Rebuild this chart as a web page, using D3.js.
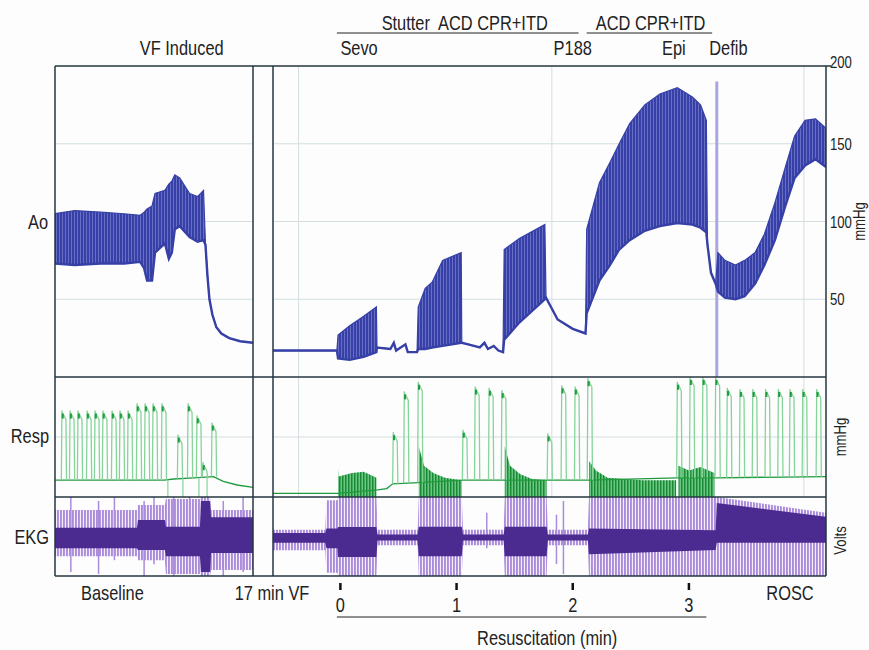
<!DOCTYPE html>
<html>
<head>
<meta charset="utf-8">
<script src="https://cdn.jsdelivr.net/npm/d3@7"></script>
<style>
  body { margin: 0; background: #fdfdfe; }
  text { font-family: "Liberation Sans", Arial, sans-serif; fill: #222; }
</style>
</head>
<body>
<svg id="chart" width="869" height="650"></svg>
<script>
// ---- data (left panel: baseline time 0-100, right panel: minutes of resuscitation) ----

// aortic pressure envelope [t, low, high] in mmHg
const aoBaseline = [
  [0, 73, 105], [10, 72, 107], [23, 73, 106], [35, 73, 105], [43, 74, 104], [45, 70, 106],
  [46.5, 62, 108], [49, 62, 110], [50.5, 80, 118], [55.5, 86, 120], [57.5, 76, 124], [59, 80, 126],
  [60.5, 95, 130], [63, 97, 128], [68, 90, 118], [72, 87, 116], [75, 88, 120], [76, 85, 85],
  [77, 65, 65], [78, 50, 50], [79.5, 40, 40], [81.5, 32, 32], [84, 28, 28], [88, 25, 25],
  [93.5, 23, 23], [100, 22, 22]
];
const aoResus = [
  [-0.58, 17, 17], [-0.03, 17, 17], [-0.02, 12, 27], [0.08, 11, 33], [0.2, 13, 39], [0.31, 16, 45],
  [0.315, 19, 19], [0.43, 18, 18], [0.46, 22, 22], [0.48, 17, 17], [0.56, 21, 21], [0.58, 16, 16],
  [0.66, 16, 16], [0.67, 18, 45], [0.73, 18, 57], [0.79, 19, 61], [0.88, 20, 75], [1.04, 22, 80],
  [1.045, 22, 22], [1.1, 21, 21], [1.2, 19, 19], [1.24, 22, 22], [1.27, 18, 18], [1.32, 20, 20],
  [1.36, 17, 17], [1.4, 16, 16], [1.41, 24, 82], [1.54, 35, 89], [1.76, 50, 98], [1.77, 51, 51],
  [1.87, 37, 37], [2.0, 31, 31], [2.11, 28, 28], [2.12, 41, 95], [2.23, 62, 125], [2.32, 72, 138],
  [2.4, 82, 150], [2.49, 88, 163], [2.62, 94, 175], [2.75, 97, 182], [2.9, 99, 186], [3.03, 98, 180],
  [3.1, 96, 175], [3.15, 93, 165], [3.16, 85, 85], [3.19, 67, 67], [3.23, 60, 60], [3.25, 55, 80],
  [3.31, 51, 75], [3.4, 50, 72], [3.48, 52, 75], [3.57, 60, 80], [3.65, 72, 92], [3.74, 88, 112],
  [3.83, 110, 135], [3.91, 128, 155], [4.0, 136, 165], [4.09, 140, 166], [4.18, 135, 160]
];
const defibMark = [3.24, 190];

// respiratory pressure (relative, 0-100)
const respBaseLine = [[0, 14], [55, 14], [60, 15], [70, 16], [80, 17], [85, 13], [92, 10], [100, 8]];
const respBasePeaks = [
  [3.5, 72], [7.6, 72], [11.6, 72], [16.2, 72], [20.2, 72], [24.2, 72], [28.8, 72], [32.8, 72],
  [36.9, 72], [41.4, 78], [45.5, 78], [49.5, 78], [54, 78], [62.1, 52], [67.2, 78], [71.7, 68],
  [74.7, 29], [79.3, 62]
];
const respBaseDips = [57, 64.6, 72.7, 76.8];
const respResusLine = [
  [-0.58, 3], [-0.02, 3], [0.32, 6], [0.4, 7], [0.45, 11], [0.67, 12], [1.05, 14], [1.41, 14],
  [1.78, 14], [2.14, 14], [2.9, 16], [3.23, 16], [4.18, 17]
];
const respResusPeaks = [
  [0.455, 54], [0.55, 88], [0.67, 96], [1.055, 56], [1.16, 92], [1.28, 91], [1.39, 89],
  [1.785, 53], [1.905, 93], [2.02, 92], [2.13, 99], [2.9, 96], [3.01, 100], [3.12, 100],
  [3.23, 100], [3.33, 91], [3.44, 90], [3.55, 90], [3.66, 90], [3.77, 90], [3.87, 90],
  [3.98, 90], [4.1, 90]
];
const respBlocks = [
  [[-0.02, 24], [-0.015, 17], [0.1, 20], [0.2, 21], [0.31, 16]],
  [[0.675, 42], [0.72, 26], [0.8, 20], [0.9, 16], [1.045, 14]],
  [[1.415, 42], [1.46, 26], [1.55, 19], [1.65, 15], [1.775, 14]],
  [[2.14, 30], [2.2, 22], [2.3, 16], [2.6, 14], [2.89, 14]],
  [[2.91, 26], [3.0, 22], [3.1, 25], [3.22, 20]]
];

// EKG envelope [t, spikeLow, spikeHigh, coreLow, coreHigh] in volts (scaled -1..1)
const ekgBaseline = [
  [0, -0.5, 0.67, -0.3, 0.22], [41.4, -0.5, 0.67, -0.3, 0.22], [41.9, -0.6, 0.8, -0.34, 0.42],
  [55.5, -0.6, 0.8, -0.34, 0.42], [56, -0.95, 0.95, -0.5, 0.25], [73.2, -0.95, 0.95, -0.5, 0.25],
  [73.7, -1, 1, -0.9, 0.9], [78.3, -1, 1, -0.9, 0.9], [78.8, -0.85, 0.67, -0.42, 0.49],
  [100, -0.85, 0.67, -0.42, 0.49]
];
const ekgBaselineSpikes = [[8, -0.9, 1], [22, -0.95, 0.9], [30, -0.6, 1], [45, -1, 0.9], [50, -0.7, 1], [60, -1, 1], [68, -0.9, 1], [85, -1, 0.9], [95, -0.9, 1]];
const ekgResus = [
  [-0.58, -0.35, 0.17, -0.16, 0.09], [-0.13, -0.35, 0.17, -0.16, 0.09], [-0.12, -0.92, 0.92, -0.3, 0.2],
  [-0.025, -0.92, 0.92, -0.3, 0.2], [-0.02, -1, 1, -0.52, 0.24], [0.31, -1, 1, -0.52, 0.24],
  [0.32, -0.22, 0.17, -0.1, 0.05], [0.665, -0.22, 0.17, -0.1, 0.05], [0.675, -1, 1, -0.5, 0.25],
  [1.045, -1, 1, -0.5, 0.25], [1.055, -0.22, 0.17, -0.1, 0.05], [1.405, -0.22, 0.17, -0.1, 0.05],
  [1.415, -1, 1, -0.5, 0.25], [1.775, -1, 1, -0.5, 0.25], [1.785, -0.22, 0.17, -0.1, 0.05],
  [2.13, -0.22, 0.17, -0.1, 0.05], [2.14, -1, 1, -0.45, 0.2], [3.23, -1, 1, -0.34, 0.16],
  [3.24, -1, 1, -0.16, 0.85], [4.18, -1, 0.6, -0.16, 0.5]
];
const ekgResusSpikes = [[1.26, -0.3, 0.6], [1.86, -0.7, 0.55], [1.92, -0.95, 0.9]];

// axis / annotation values
const aoTicks = [200, 150, 100, 50];
const aoGrid = [50, 100, 150];
const respGrid = [50];
const minuteGrid = [-0.36, 1.82, 3.99];
const minuteTicks = [0, 1, 2, 3];
const topEvents = [["Sevo", 0, "start"], ["P188", 2, "middle"], ["Epi", 2.87, "middle"], ["Defib", 3.34, "middle"]];
const brackets = [["Stutter  ACD CPR+ITD", -0.03, 2.05, 1.07], ["ACD CPR+ITD", 2.12, 3.2, 2.67]];

// ---- layout ----
const W = 869, H = 650;
const yTop = 66, aoBottom = 377, respBottom = 497, yBottom = 576;
const xL = d3.scaleLinear().domain([0, 100]).range([55, 253]);
const xR = d3.scaleLinear().domain([-0.58, 4.18]).range([273, 826]);
const yAo = d3.scaleLinear().domain([0, 200]).range([aoBottom, yTop]);
const yResp = d3.scaleLinear().domain([0, 100]).range([respBottom, aoBottom]);
const yEkg = d3.scaleLinear().domain([-1, 1]).range([yBottom, respBottom]);

const aoDark = "#3640a6", aoLight = "#686ec3";
const respDark = "#1f9a3d", respLight = "#86d49a";
const ekgDark = "#4b2b8f", ekgLight = "#ab8cdb";
const frame = "#24363f", grid = "#d3dfdf";
const narrow = 0.82;

const svg = d3.select("#chart");
svg.append("rect").attr("width", W).attr("height", H).attr("fill", "#fdfdfe");
const defs = svg.append("defs");

function hatch(id, bg, fg, w, lw) {
  const p = defs.append("pattern").attr("id", id).attr("patternUnits", "userSpaceOnUse")
    .attr("width", w).attr("height", 10);
  p.append("rect").attr("width", w).attr("height", 10).attr("fill", bg);
  p.append("rect").attr("width", lw).attr("height", 10).attr("fill", fg);
}
hatch("aoHatch", aoLight, aoDark, 3, 2);
hatch("respHatch", "#6cc684", "#178a33", 3, 1.5);
hatch("ekgHatch", "#f4effb", ekgLight, 3, 1.9);

function clip(id, x, y0, y1) {
  defs.append("clipPath").attr("id", id).append("rect")
    .attr("x", x.range()[0]).attr("y", y0)
    .attr("width", x.range()[1] - x.range()[0]).attr("height", y1 - y0);
  return svg.append("g").attr("clip-path", `url(#${id})`);
}

// condensed text, like the original figure's narrow face
function label(g, text, x, y, anchor, size, rot) {
  return g.append("text")
    .attr("transform", `translate(${x},${y})${rot ? " rotate(" + rot + ")" : ""} scale(${narrow},1)`)
    .attr("text-anchor", anchor).attr("font-size", size)
    .style("white-space", "pre").text(text);
}

// ---- grid ----
const gGrid = svg.append("g").attr("stroke", grid).attr("stroke-width", 1);
[xL, xR].forEach(x => {
  aoGrid.forEach(v => gGrid.append("line").attr("x1", x.range()[0]).attr("x2", x.range()[1])
    .attr("y1", yAo(v)).attr("y2", yAo(v)));
  respGrid.forEach(v => gGrid.append("line").attr("x1", x.range()[0]).attr("x2", x.range()[1])
    .attr("y1", yResp(v)).attr("y2", yResp(v)));
});
minuteGrid.forEach(t => gGrid.append("line").attr("x1", xR(t)).attr("x2", xR(t))
  .attr("y1", yTop).attr("y2", respBottom));

// ---- Ao ----
function drawAo(g, x, data) {
  g.append("path").datum(data)
    .attr("d", d3.area().x(d => x(d[0])).y0(d => yAo(d[1])).y1(d => yAo(d[2])))
    .attr("fill", "url(#aoHatch)");
  g.append("path").datum(data)
    .attr("d", d3.line().x(d => x(d[0])).y(d => yAo(d[2])))
    .attr("fill", "none").attr("stroke", aoDark).attr("stroke-width", 1.2);
  g.append("path").datum(data)
    .attr("d", d3.line().x(d => x(d[0])).y(d => yAo(d[1])))
    .attr("fill", "none").attr("stroke", aoDark).attr("stroke-width", 2.4);
}
drawAo(clip("cAoL", xL, yTop, aoBottom), xL, aoBaseline);
const gAoR = clip("cAoR", xR, yTop, aoBottom);
gAoR.append("line").attr("x1", xR(defibMark[0])).attr("x2", xR(defibMark[0]))
  .attr("y1", yAo(defibMark[1])).attr("y2", yAo(0))
  .attr("stroke", "#a9a6e2").attr("stroke-width", 3);
drawAo(gAoR, xR, aoResus);

// ---- Resp ----
function drawResp(g, x, base, peaks, blocks, dips) {
  const level = d3.scaleLinear().domain(base.map(d => d[0])).range(base.map(d => d[1]));
  blocks.forEach(b => g.append("path").datum(b)
    .attr("d", d3.area().x(d => x(d[0])).y0(yResp(0)).y1(d => yResp(d[1])))
    .attr("fill", "url(#respHatch)"));
  g.append("path").datum(base)
    .attr("d", d3.line().x(d => x(d[0])).y(d => yResp(d[1])))
    .attr("fill", "none").attr("stroke", respDark).attr("stroke-width", 1.3);
  dips.forEach(t => g.append("line").attr("x1", x(t)).attr("x2", x(t))
    .attr("y1", yResp(level(t))).attr("y2", yResp(0))
    .attr("stroke", respLight).attr("stroke-width", 1.2));
  peaks.forEach(([t, v]) => {
    const px = x(t), yb = yResp(level(t)), yp = yResp(v);
    g.append("path")
      .attr("d", `M${px - 0.6},${yb}L${px},${yp}L${px + 1},${yp + 6}L${px + 1.6},${yp + 4}L${px + 4},${yp + 9}L${px + 4.6},${yb}`)
      .attr("fill", "none").attr("stroke", respLight).attr("stroke-width", 1.3);
    g.append("rect").attr("x", px - 0.2).attr("y", yp + 3).attr("width", 2).attr("height", 5)
      .attr("fill", respDark);
  });
}
drawResp(clip("cRespL", xL, aoBottom, respBottom), xL, respBaseLine, respBasePeaks, [], respBaseDips);
drawResp(clip("cRespR", xR, aoBottom, respBottom), xR, respResusLine, respResusPeaks, respBlocks, []);

// ---- EKG ----
function drawEkg(g, x, data, spikes) {
  g.append("path").datum(data)
    .attr("d", d3.area().x(d => x(d[0])).y0(d => yEkg(d[1])).y1(d => yEkg(d[2])))
    .attr("fill", "url(#ekgHatch)");
  spikes.forEach(([t, lo, hi]) => g.append("line").attr("x1", x(t)).attr("x2", x(t))
    .attr("y1", yEkg(lo)).attr("y2", yEkg(hi)).attr("stroke", ekgLight).attr("stroke-width", 1.5));
  g.append("path").datum(data)
    .attr("d", d3.area().x(d => x(d[0])).y0(d => yEkg(d[3])).y1(d => yEkg(d[4])))
    .attr("fill", ekgDark);
}
drawEkg(clip("cEkgL", xL, respBottom, yBottom), xL, ekgBaseline, ekgBaselineSpikes);
drawEkg(clip("cEkgR", xR, respBottom, yBottom), xR, ekgResus, ekgResusSpikes);

// ---- frame ----
const gF = svg.append("g").attr("stroke", frame).attr("stroke-width", 1.5);
[yTop, aoBottom, respBottom, yBottom].forEach(y =>
  gF.append("line").attr("x1", xL.range()[0]).attr("x2", xR.range()[1]).attr("y1", y).attr("y2", y));
[xL.range()[0], xL.range()[1], xR.range()[0], xR.range()[1]].forEach(x =>
  gF.append("line").attr("x1", x).attr("x2", x).attr("y1", yTop).attr("y2", yBottom));
gF.append("line").attr("x1", xR.range()[1]).attr("x2", xR.range()[1] + 5).attr("y1", yTop).attr("y2", yTop);

// ---- right axis ----
const gAx = svg.append("g");
aoTicks.forEach(v => label(gAx, String(v), 830, yAo(v) + (v === 200 ? 2 : 6), "start", 16));
label(gAx, "mmHg", 865, yAo(100), "middle", 16, -90);
label(gAx, "mmHg", 846, yResp(50), "middle", 16, -90);
label(gAx, "Volts", 846, yEkg(-0.1), "middle", 16, -90);

// ---- left labels ----
const gLab = svg.append("g");
label(gLab, "Ao", 48, yAo(95), "end", 20);
label(gLab, "Resp", 49, yResp(45), "end", 20);
label(gLab, "EKG", 49, yEkg(-0.2), "end", 20);

// ---- top annotations ----
const gTop = svg.append("g");
label(gTop, "VF Induced", xL(64), 55, "middle", 20);
topEvents.forEach(([text, t, anchor]) => label(gTop, text, xR(t), 55, anchor, 20));
brackets.forEach(([text, t0, t1, tc]) => {
  gTop.append("line").attr("x1", xR(t0)).attr("x2", xR(t1)).attr("y1", 33).attr("y2", 33)
    .attr("stroke", "#222").attr("stroke-width", 1.2);
  label(gTop, text, xR(tc), 30, "middle", 20);
});

// ---- bottom annotations ----
const gBot = svg.append("g");
label(gBot, "Baseline", xL(29), 600, "middle", 20);
label(gBot, "17 min VF", xR.range()[0] - 1, 600, "middle", 20);
label(gBot, "ROSC", xR(3.87), 600, "middle", 20);
minuteTicks.forEach(m => {
  gBot.append("line").attr("x1", xR(m)).attr("x2", xR(m)).attr("y1", 583).attr("y2", 590)
    .attr("stroke", "#111").attr("stroke-width", 2.5);
  label(gBot, String(m), xR(m), 612, "middle", 20);
});
gBot.append("line").attr("x1", xR(-0.03)).attr("x2", xR(3.15)).attr("y1", 617).attr("y2", 617)
  .attr("stroke", "#222").attr("stroke-width", 1.2);
label(gBot, "Resuscitation (min)", xR(1.78), 645, "middle", 20);
</script>
</body>
</html>
